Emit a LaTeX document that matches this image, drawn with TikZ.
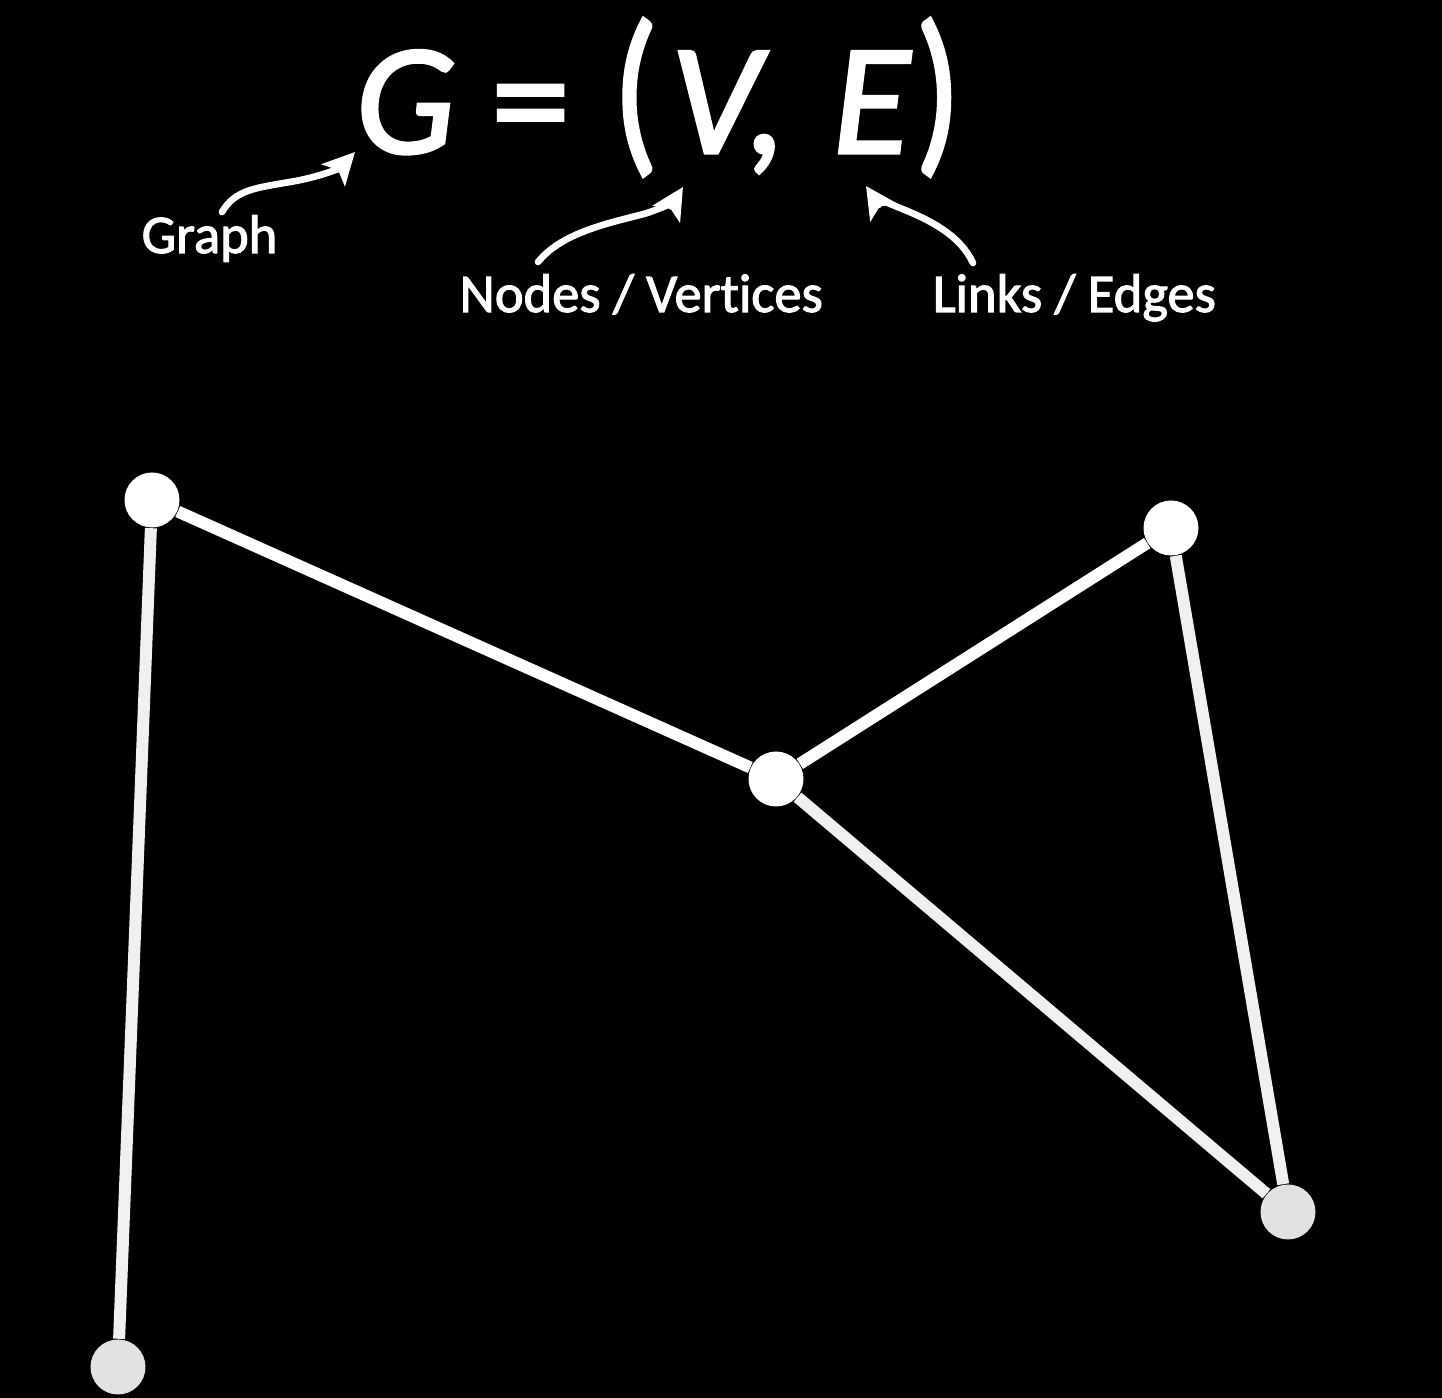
\documentclass[tikz,border=0pt]{standalone}
\usepackage{fontspec}
\usepackage{graphicx}
\setmainfont{Carlito}[Ligatures=NoCommon]
\newfontfamily\heavy{Carlito}[Ligatures=NoCommon, FakeBold=2]
\usetikzlibrary{arrows.meta}
\definecolor{lowgray}{HTML}{E2E2E2}
\definecolor{midgray}{HTML}{F0F0F0}
\tikzset{
  vert/.style={circle, fill=#1, draw=none, minimum size=0.55cm, inner sep=0pt},
  vert/.default=white,
  edgeline/.style={line width=0.12cm, draw=#1},
  edgeline/.default=white,
  lbl/.style={text=white, font=\heavy\fontsize{15.5}{18}\selectfont, inner sep=0pt, anchor=base west},
  pointer/.style={draw=white, line width=1.9pt, line cap=round,
    -{Stealth[length=9pt, width=9pt, inset=2pt]}}
}
\newcommand{\tallparen}[1]{\raisebox{0.5pt}{\scalebox{0.95}[1.15]{#1}}}
\begin{document}
\begin{tikzpicture}
\useasboundingbox[fill=black] (0,0) rectangle (14.42,-13.98);

% title
\node[text=white, inner sep=0pt, anchor=base west, font=\heavy\fontsize{45}{50}\selectfont] (title) at (3.55,-1.53)
  {{\itshape G} = \kern 2pt\tallparen{(}\kern 3.5pt{\itshape V,}\kern 13pt{\itshape E}\kern 1.5pt\tallparen{)}};

% labels
\node[lbl] (graph) at (1.41,-2.53) {Graph};
\node[lbl] (nodes) at (4.59,-3.12) {Nodes / Vertices};
\node[lbl] (links) at (9.32,-3.12) {Links / Edges};

% pointer coordinates
\coordinate (gs) at (2.22,-2.12);
\coordinate (ge) at (3.55,-1.52);
\coordinate (ns) at (5.38,-2.62);
\coordinate (ne) at (6.83,-1.87);
\coordinate (ls) at (9.73,-2.63);
\coordinate (le) at (8.66,-1.86);

\draw[pointer] (gs) .. controls (2.35,-1.90) and (2.55,-1.88) .. (2.90,-1.82)
                    .. controls (3.20,-1.77) and (3.40,-1.68) .. (ge);
\draw[pointer] (ns) .. controls (5.60,-2.35) and (6.00,-2.25) .. (6.40,-2.15)
                    .. controls (6.60,-2.10) and (6.75,-2.00) .. (ne);
\draw[pointer] (ls) .. controls (9.60,-2.35) and (9.30,-2.20) .. (9.00,-2.08)
                    .. controls (8.85,-2.02) and (8.72,-1.95) .. (le);

% graph vertices
\node[vert] (A) at (1.52,-5.00) {};
\node[vert] (B) at (11.71,-5.28) {};
\node[vert] (C) at (7.76,-7.79) {};
\node[vert=lowgray] (D) at (12.88,-12.12) {};
\node[vert=lowgray] (E) at (1.18,-13.67) {};

% edges
\draw[edgeline=midgray] (A) -- (E);
\draw[edgeline] (A) -- (C);
\draw[edgeline] (C) -- (B);
\draw[edgeline=midgray] (B) -- (D);
\draw[edgeline=midgray] (C) -- (D);
\end{tikzpicture}
\end{document}
